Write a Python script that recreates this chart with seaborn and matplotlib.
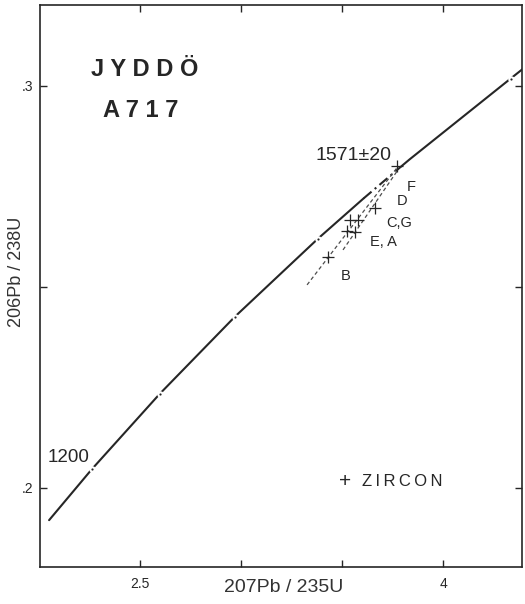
import numpy as np
import pandas as pd
import matplotlib
matplotlib.use("Agg")
import matplotlib.pyplot as plt
import seaborn as sns

# concordia points (207Pb/235U, 206Pb/238U) at the ages marked on the curve
conc_age = [1133, 1200, 1300, 1400, 1500, 1551, 1591, 1600, 1700, 1711]
conc_207 = [2.050, 2.2604, 2.5976, 2.9700, 3.3812, 3.6068, 3.7918, 3.8345, 4.3348, 4.400]
conc_206 = [0.1920, 0.2046, 0.2234, 0.2426, 0.2620, 0.2720, 0.2799, 0.2817, 0.3018, 0.3044]
tick_ages = [1200, 1300, 1400, 1500, 1700]
err_ages = [1551, 1591]   # 1571 +- 20 drawn dash-dot

# zircon fractions
samples = ["F", "D", "C", "G", "E", "A", "B"]
zr_207 = [3.771, 3.663, 3.540, 3.579, 3.523, 3.564, 3.432]
zr_206 = [0.2801, 0.2696, 0.2666, 0.2666, 0.2640, 0.2637, 0.2575]

# discordia lines (lower end, upper end)
disc1_207 = [3.327, 3.772]
disc1_206 = [0.2505, 0.2796]
disc2_207 = [3.505, 3.777]
disc2_206 = [0.2592, 0.2791]

sns.set_theme(style="ticks")
plt.rcParams["font.family"] = ["Liberation Sans", "DejaVu Sans"]
ink = "#262626"

conc = pd.DataFrame({"age": conc_age, "x": conc_207, "y": conc_206})
zr = pd.DataFrame({"sample": samples, "x": zr_207, "y": zr_206})

fig = plt.figure(figsize=(5.25, 6.04), dpi=100)
ax = fig.add_axes([0.0762, 0.0613, 0.9181, 0.9305])

# concordia: solid outside the error interval, dash-dot inside
lo = conc[conc["age"] <= err_ages[0]]
mid = conc[(conc["age"] >= err_ages[0]) & (conc["age"] <= err_ages[1])]
hi = conc[conc["age"] >= err_ages[1]]
for part in [lo, hi]:
    sns.lineplot(data=part, x="x", y="y", sort=False, estimator=None,
                 color=ink, lw=1.5, ax=ax)
ax.plot(mid["x"], mid["y"], color=ink, lw=1.5, dashes=(5, 2, 1, 2))

# age ticks on the curve: small gap with a dot
tk = conc[conc["age"].isin(tick_ages)]
ax.scatter(tk["x"], tk["y"], s=22, color="white", zorder=3, linewidths=0)
ax.scatter(tk["x"], tk["y"], s=2.5, color=ink, zorder=4, linewidths=0)

# discordia
for xs, ys in [(disc1_207, disc1_206), (disc2_207, disc2_206)]:
    ax.plot(xs, ys, color="#4d4d4d", lw=0.9, dashes=(3, 2.2))

sns.scatterplot(data=zr, x="x", y="y", marker="+", s=70, color=ink,
                linewidth=0.9, zorder=5, ax=ax)

ax.set_xlim(2.005, 4.391)
ax.set_ylim(0.18036, 0.3201)
ax.set_xticks([2.5, 3.0, 3.5, 4.0])
ax.set_xticklabels(["2.5", "", "", "4"])
ax.set_yticks([0.2, 0.25, 0.3])
ax.set_yticklabels([".2", "", ".3"])
ax.tick_params(top=True, right=True, direction="in", length=5, width=1,
               colors=ink, labelsize=10)
ax.tick_params(axis="x", pad=7)
ax.tick_params(axis="y", pad=5)
for sp in ax.spines.values():
    sp.set_color(ink)
    sp.set_linewidth(1.2)

ax.set_xlabel("207Pb / 235U", fontsize=14, color="#333333")
ax.set_ylabel("206Pb / 238U", fontsize=13, color="#333333")
ax.xaxis.set_label_coords(0.506, -0.022)
ax.yaxis.set_label_coords(-0.031, 0.525)

ax.text(2.525, 0.3024, "J Y D D Ö", fontsize=17, fontweight="bold", color=ink,
        ha="center", va="baseline")
ax.text(2.505, 0.2923, "A 7 1 7", fontsize=17, fontweight="bold", color=ink,
        ha="center", va="baseline")
ax.text(3.559, 0.2816, "1571±20", fontsize=14, color=ink, ha="center", va="baseline")
ax.text(2.144, 0.2075, "1200", fontsize=13.5, color=ink, ha="center", va="center")

lab = dict(fontsize=10.5, color=ink, va="center")
ax.text(3.845, 0.2749, "F", ha="center", **lab)
ax.text(3.795, 0.2714, "D", ha="center", **lab)
ax.text(3.721, 0.2660, "C,G", ha="left", **lab)
ax.text(3.639, 0.2612, "E, A", ha="left", **lab)
ax.text(3.520, 0.2526, "B", ha="center", **lab)

ax.text(3.515, 0.2015, "+", fontsize=15, color=ink, ha="center", va="center")
ax.text(3.599, 0.2015, "Z\u2009I\u2009R\u2009C\u2009O\u2009N", fontsize=12, color=ink,
        ha="left", va="center")

fig.savefig("out.png", dpi=100)
